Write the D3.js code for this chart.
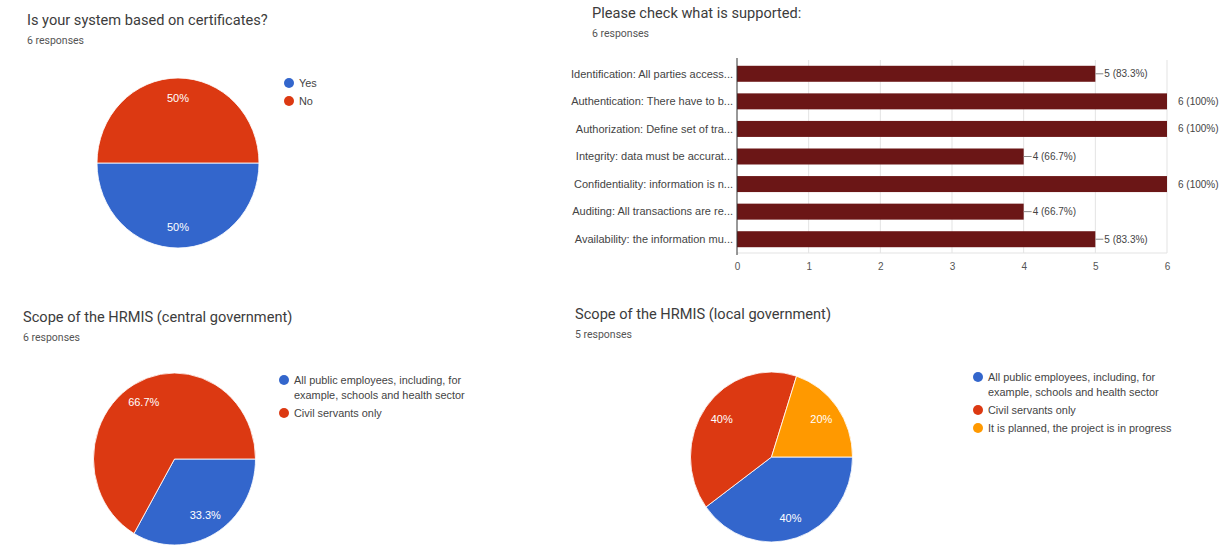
<!DOCTYPE html>
<html>
<head>
<meta charset="utf-8">
<script src="https://cdn.jsdelivr.net/npm/d3@7"></script>
<style>
  html, body { margin: 0; padding: 0; background: #fff; }
  svg { display: block; }
  .title { font-family: Roboto, "Liberation Sans", Arial, sans-serif; fill: #3c3c3c; }
  .sub { font-family: Roboto, "Liberation Sans", Arial, sans-serif; fill: #555; }
  .lbl { font-family: "Liberation Sans", Arial, sans-serif; fill: #444; }
</style>
</head>
<body>
<svg id="chart" width="1226" height="545"></svg>
<script>
// ---------- DATA ----------
const certTitle = "Is your system based on certificates?";
const certResponses = "6 responses";
const certCategories = ["Yes", "No"];
const certValues = [3, 3];

const supTitle = "Please check what is supported:";
const supResponses = "6 responses";
const supCategories = [
  "Identification: All parties access...",
  "Authentication: There have to b...",
  "Authorization: Define set of tra...",
  "Integrity: data must be accurat...",
  "Confidentiality: information is n...",
  "Auditing: All transactions are re...",
  "Availability: the information mu..."
];
const supValues = [5, 6, 6, 4, 6, 4, 5];
const supLabels = ["5 (83.3%)", "6 (100%)", "6 (100%)", "4 (66.7%)", "6 (100%)", "4 (66.7%)", "5 (83.3%)"];
const supTicks = [0, 1, 2, 3, 4, 5, 6];

const centralTitle = "Scope of the HRMIS (central government)";
const centralResponses = "6 responses";
const centralCategories = [
  ["All public employees, including, for", "example, schools and health sector"],
  ["Civil servants only"]
];
const centralValues = [2, 4];

const localTitle = "Scope of the HRMIS (local government)";
const localResponses = "5 responses";
const localCategories = [
  ["All public employees, including, for", "example, schools and health sector"],
  ["Civil servants only"],
  ["It is planned, the project is in progress"]
];
const localValues = [2, 2, 1];

const pieColors = ["#3366cc", "#dc3912", "#ff9900"];
const barColor = "#6b1616";

// ---------- DRAW ----------
const svg = d3.select("#chart");

function heading(x, y, title, resp) {
  svg.append("text").attr("class", "title").attr("x", x).attr("y", y)
    .attr("font-size", 14.6).text(title);
  svg.append("text").attr("class", "sub").attr("x", x).attr("y", y + 19)
    .attr("font-size", 10.5).text(resp);
}

function pieChart(cx, cy, rx, ry, values, legendItems, legendX, legendY) {
  const total = d3.sum(values);
  const pie = d3.pie().sort(null).startAngle(Math.PI / 2).endAngle(Math.PI / 2 + 2 * Math.PI);
  const arcs = pie(values);
  const arc = d3.arc().innerRadius(0).outerRadius(rx);
  const labelArc = d3.arc().innerRadius(rx * 0.76).outerRadius(rx * 0.76);
  const g = svg.append("g").attr("transform", `translate(${cx},${cy})`);
  const sx = 1, sy = ry / rx;
  g.append("g").attr("transform", `scale(${sx},${sy})`)
    .selectAll("path").data(arcs).join("path")
    .attr("d", arc)
    .attr("fill", (d, i) => pieColors[i])
    .attr("stroke", "#fff").attr("stroke-width", 0.8);
  g.selectAll("text.pl").data(arcs).join("text")
    .attr("class", "lbl pl")
    .attr("x", d => labelArc.centroid(d)[0] * sx)
    .attr("y", d => labelArc.centroid(d)[1] * sy)
    .attr("dy", "0.35em")
    .attr("text-anchor", "middle")
    .attr("font-size", 11)
    .style("fill", "#fff")
    .text(d => {
      const p = d.data / total * 100;
      return (Math.round(p * 10) / 10) + "%";
    });
  // legend
  let y = legendY;
  legendItems.forEach((lines, i) => {
    svg.append("circle").attr("cx", legendX).attr("cy", y).attr("r", 5).attr("fill", pieColors[i]);
    lines.forEach((ln, j) => {
      svg.append("text").attr("class", "lbl").attr("x", legendX + 10).attr("y", y + j * 15)
        .attr("dy", "0.35em").attr("font-size", 10.9).text(ln);
    });
    y += lines.length * 15 + 3;
  });
}

// Top-left
heading(27, 25, certTitle, certResponses);
pieChart(178, 163, 81, 85, certValues, certCategories.map(c => [c]), 289, 83);

// Top-right bar chart
heading(592, 18, supTitle, supResponses);
(function () {
  const x = d3.scaleLinear().domain([0, 6]).range([737, 1167]);
  const y = d3.scaleBand().domain(supCategories).range([60, 253]).paddingInner(0.42).paddingOuter(0.21);
  const g = svg.append("g");
  // gridlines
  g.selectAll("line.grid").data(supTicks.slice(1)).join("line")
    .attr("x1", d => x(d)).attr("x2", d => x(d))
    .attr("y1", 60).attr("y2", 253)
    .attr("stroke", "#e3e3e3").attr("stroke-width", 1);
  g.append("line").attr("x1", 737).attr("x2", 1167).attr("y1", 253).attr("y2", 253)
    .attr("stroke", "#e3e3e3");
  // bars
  g.selectAll("rect").data(supValues).join("rect")
    .attr("x", x(0)).attr("y", (d, i) => y(supCategories[i]))
    .attr("width", d => x(d) - x(0)).attr("height", y.bandwidth())
    .attr("fill", barColor);
  // baseline
  g.append("line").attr("x1", x(0)).attr("x2", x(0)).attr("y1", 58).attr("y2", 255)
    .attr("stroke", "#333").attr("stroke-width", 1);
  // category labels
  g.selectAll("text.cat").data(supCategories).join("text")
    .attr("class", "lbl cat")
    .attr("x", 733).attr("y", d => y(d) + y.bandwidth() / 2).attr("dy", "0.35em")
    .attr("text-anchor", "end").attr("font-size", 11).text(d => d);
  // value annotations
  const vmax = d3.max(supValues);
  supValues.forEach((v, i) => {
    const cy = y(supCategories[i]) + y.bandwidth() / 2;
    if (v < vmax) {
      g.append("line").attr("x1", x(v)).attr("x2", x(v) + 8).attr("y1", cy).attr("y2", cy)
        .attr("stroke", "#888").attr("stroke-width", 1);
      g.append("text").attr("class", "lbl").attr("x", x(v) + 9).attr("y", cy).attr("dy", "0.35em")
        .attr("font-size", 10).text(supLabels[i]);
    } else {
      g.append("text").attr("class", "lbl").attr("x", x(v) + 11).attr("y", cy).attr("dy", "0.35em")
        .attr("font-size", 10).text(supLabels[i]);
    }
  });
  // x axis
  const ax = g.append("g").attr("transform", "translate(0,253)")
    .call(d3.axisBottom(x).tickValues(supTicks).tickSize(0).tickPadding(10).tickFormat(d3.format("d")));
  ax.select(".domain").remove();
  ax.selectAll("text").attr("class", "lbl").attr("font-size", 10).style("fill", "#555")
    .attr("font-family", "Liberation Sans, Arial, sans-serif");
})();

// Bottom-left
heading(23, 322, centralTitle, centralResponses);
pieChart(174.5, 459, 81, 86, centralValues, centralCategories, 284, 380);

// Bottom-right
heading(575, 319, localTitle, localResponses);
pieChart(771.5, 457, 81, 85, localValues, localCategories, 978, 377);
</script>
</body>
</html>
